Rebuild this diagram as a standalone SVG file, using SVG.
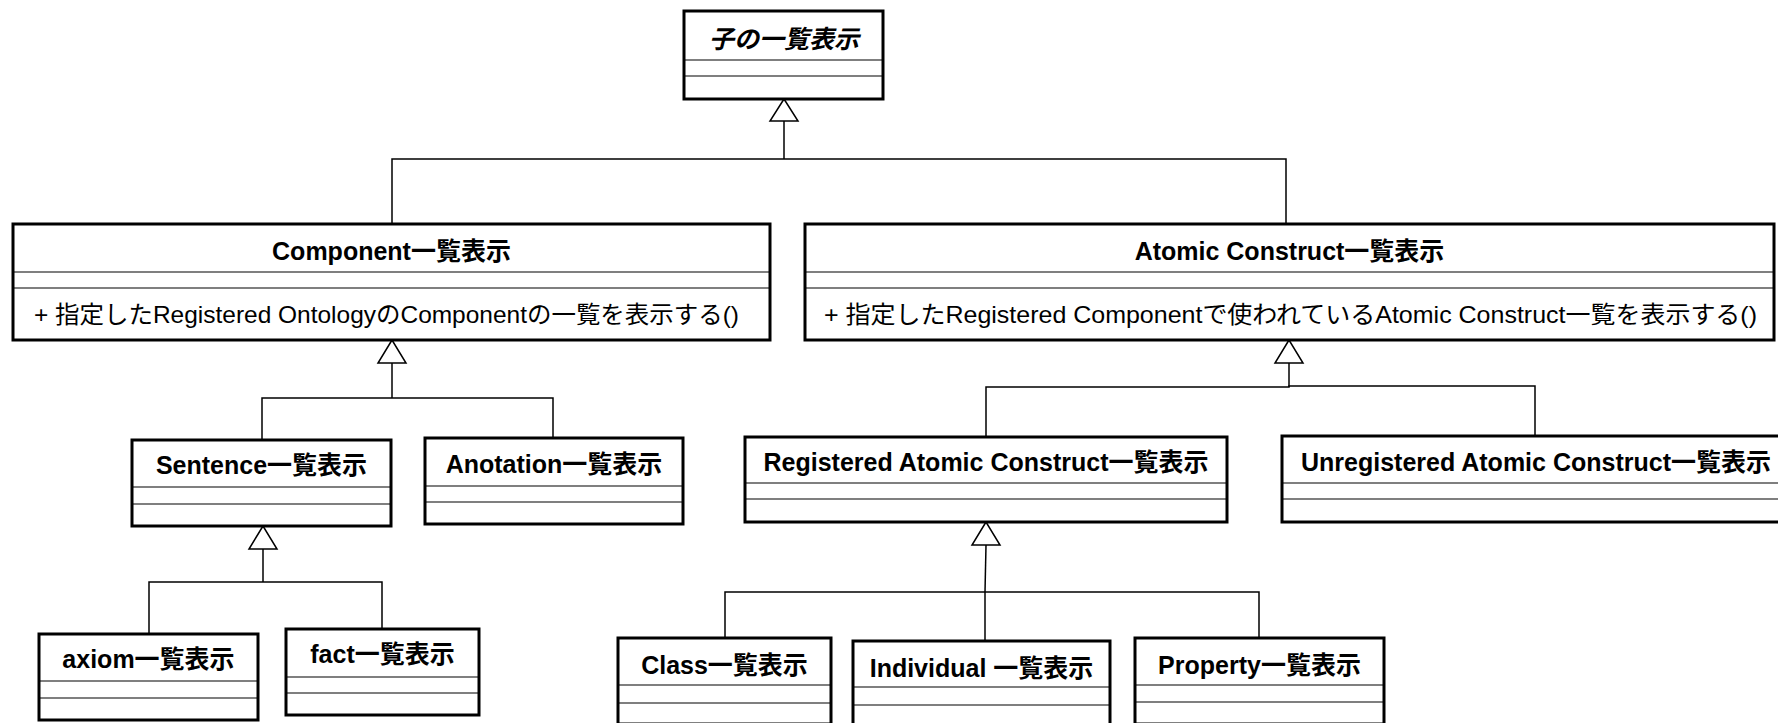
<svg xmlns="http://www.w3.org/2000/svg" width="1778" height="723" viewBox="0 0 1778 723">
<style>
.box{fill:#fff;stroke:#000;stroke-width:3}
.div{stroke:#000;stroke-width:1.2;fill:none}
.name{font-family:"Liberation Sans","Noto Sans CJK JP",sans-serif;font-weight:bold;font-size:25px;text-anchor:middle;fill:#000}
.op{font-family:"Liberation Sans","Noto Sans CJK JP",sans-serif;font-size:24px;fill:#000}
.conn line,.conn polyline{stroke:#000;stroke-width:1.5;fill:none}
.tri{fill:#fff;stroke:#000;stroke-width:1.5}
</style>
<rect width="1778" height="723" fill="#fff"/>
<g class="conn" id="connectors">
<polyline points="784,121 784,159"/>
<polyline points="392,224 392,159 1286,159 1286,224"/>
<polygon class="tri" points="784,99 770,121 798,121"/>
<polyline points="392,363 392,398"/>
<polyline points="262,440 262,398 553,398 553,438"/>
<polygon class="tri" points="392,340 378,363 406,363"/>
<polyline points="263,549 263,582"/>
<polyline points="149,634 149,582 382,582 382,629"/>
<polygon class="tri" points="263,526 249,549 277,549"/>
<polyline points="1289,363 1289,387"/>
<polyline points="986,437 986,387 1289,387 1289,386 1535,386 1535,436"/>
<polygon class="tri" points="1289,340 1275,363 1303,363"/>
<polyline points="986,545 985,592"/>
<polyline points="725,638 725,592 1259,592 1259,638"/>
<line x1="985" y1="592" x2="985" y2="641"/>
<polygon class="tri" points="986,522 972,545 1000,545"/>
</g>
<g id="node-top">
<rect class="box" x="684" y="11" width="199" height="88"/>
<line class="div" x1="684" y1="60" x2="883" y2="60"/>
<line class="div" x1="684" y1="76" x2="883" y2="76"/>
<text class="name" x="784" y="48" font-style="italic">子の一覧表示</text>
</g>
<g id="node-component">
<rect class="box" x="13" y="224" width="757" height="116"/>
<line class="div" x1="13" y1="272" x2="770" y2="272"/>
<line class="div" x1="13" y1="288" x2="770" y2="288"/>
<text class="name" x="391.5" y="260">Component一覧表示</text>
<text class="op" x="34" y="323" textLength="705" lengthAdjust="spacingAndGlyphs">+ 指定したRegistered OntologyのComponentの一覧を表示する()</text>
</g>
<g id="node-atomic">
<rect class="box" x="805" y="224" width="969" height="116"/>
<line class="div" x1="805" y1="272" x2="1774" y2="272"/>
<line class="div" x1="805" y1="288" x2="1774" y2="288"/>
<text class="name" x="1289.5" y="260">Atomic Construct一覧表示</text>
<text class="op" x="824" y="323" textLength="933" lengthAdjust="spacingAndGlyphs">+ 指定したRegistered Componentで使われているAtomic Construct一覧を表示する()</text>
</g>
<g id="node-sentence">
<rect class="box" x="132" y="440" width="259" height="86"/>
<line class="div" x1="132" y1="487" x2="391" y2="487"/>
<line class="div" x1="132" y1="504" x2="391" y2="504"/>
<text class="name" x="261.5" y="474">Sentence一覧表示</text>
</g>
<g id="node-anotation">
<rect class="box" x="425" y="438" width="258" height="86"/>
<line class="div" x1="425" y1="486" x2="683" y2="486"/>
<line class="div" x1="425" y1="502" x2="683" y2="502"/>
<text class="name" x="554" y="473">Anotation一覧表示</text>
</g>
<g id="node-registered">
<rect class="box" x="745" y="437" width="482" height="85"/>
<line class="div" x1="745" y1="483" x2="1227" y2="483"/>
<line class="div" x1="745" y1="499" x2="1227" y2="499"/>
<text class="name" x="986" y="471">Registered Atomic Construct一覧表示</text>
</g>
<g id="node-unregistered">
<rect class="box" x="1282" y="436" width="508" height="86"/>
<line class="div" x1="1282" y1="483" x2="1790" y2="483"/>
<line class="div" x1="1282" y1="499" x2="1790" y2="499"/>
<text class="name" x="1536" y="471">Unregistered Atomic Construct一覧表示</text>
</g>
<g id="node-axiom">
<rect class="box" x="39" y="634" width="219" height="86"/>
<line class="div" x1="39" y1="681" x2="258" y2="681"/>
<line class="div" x1="39" y1="698" x2="258" y2="698"/>
<text class="name" x="148.5" y="668">axiom一覧表示</text>
</g>
<g id="node-fact">
<rect class="box" x="286" y="629" width="193" height="86"/>
<line class="div" x1="286" y1="677" x2="479" y2="677"/>
<line class="div" x1="286" y1="693" x2="479" y2="693"/>
<text class="name" x="382.5" y="663">fact一覧表示</text>
</g>
<g id="node-class">
<rect class="box" x="618" y="638" width="213" height="86"/>
<line class="div" x1="618" y1="685" x2="831" y2="685"/>
<line class="div" x1="618" y1="703" x2="831" y2="703"/>
<text class="name" x="724.5" y="674">Class一覧表示</text>
</g>
<g id="node-individual">
<rect class="box" x="853" y="641" width="257" height="86"/>
<line class="div" x1="853" y1="687" x2="1110" y2="687"/>
<line class="div" x1="853" y1="705" x2="1110" y2="705"/>
<text class="name" x="981.5" y="677">Individual 一覧表示</text>
</g>
<g id="node-property">
<rect class="box" x="1135" y="638" width="249" height="86"/>
<line class="div" x1="1135" y1="685" x2="1384" y2="685"/>
<line class="div" x1="1135" y1="702" x2="1384" y2="702"/>
<text class="name" x="1259.5" y="674">Property一覧表示</text>
</g>
</svg>
